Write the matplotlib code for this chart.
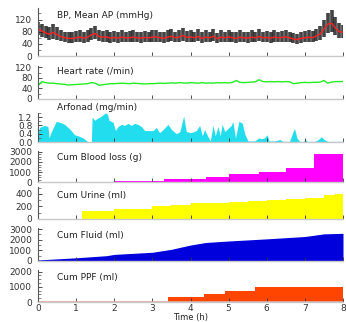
import numpy as np
import matplotlib
matplotlib.use('Agg')
import matplotlib.pyplot as plt
from matplotlib.ticker import MultipleLocator

plt.rcParams['font.family'] = ['DejaVu Sans']

# sampling grid for BP and heart rate (every 6 min)
t_grid = np.round(np.arange(81) * 0.1, 1)

bp_mean = [90, 82, 76, 72, 78, 70, 64, 60, 58, 58,
           60, 62, 59, 62, 70, 74, 64, 62, 63, 59,
           61, 59, 62, 60, 60, 62, 60, 59, 61, 60,
           62, 63, 60, 58, 62, 65, 60, 62, 68, 61,
           63, 60, 64, 58, 62, 60, 65, 57, 62, 60,
           63, 60, 58, 62, 60, 59, 62, 60, 64, 60,
           61, 59, 62, 60, 61, 63, 60, 56, 54, 58,
           60, 62, 60, 66, 72, 88, 105, 108, 92, 80, 78]
bp_sys = [112, 106, 100, 96, 104, 95, 86, 80, 78, 80,
          82, 85, 80, 84, 92, 98, 86, 82, 84, 80,
          82, 79, 84, 80, 81, 84, 80, 79, 82, 80,
          84, 86, 80, 78, 84, 88, 80, 84, 92, 82,
          86, 80, 88, 78, 84, 80, 88, 76, 84, 80,
          86, 80, 78, 84, 80, 79, 84, 80, 88, 80,
          82, 79, 84, 80, 82, 86, 80, 76, 74, 78,
          82, 86, 82, 90, 100, 120, 140, 150, 128, 108, 102]
bp_dia = [70, 62, 58, 54, 56, 52, 48, 45, 44, 44,
          45, 46, 44, 46, 52, 55, 48, 46, 47, 44,
          46, 44, 46, 45, 45, 46, 45, 44, 46, 45,
          46, 47, 45, 43, 46, 48, 45, 46, 50, 46,
          47, 45, 48, 43, 46, 45, 48, 42, 46, 45,
          47, 45, 43, 46, 45, 44, 46, 45, 48, 45,
          46, 44, 46, 45, 46, 47, 45, 42, 40, 43,
          45, 46, 45, 50, 54, 62, 75, 80, 70, 60, 58]
hr = [50, 66, 62, 60, 60, 58, 57, 55, 53, 54,
      55, 56, 57, 58, 62, 60, 52, 54, 56, 58,
      58, 59, 60, 59, 58, 60, 59, 58, 57, 58,
      58, 59, 60, 59, 60, 61, 60, 62, 61, 60,
      62, 61, 60, 62, 60, 61, 60, 62, 61, 62,
      61, 63, 70, 63, 62, 63, 64, 65, 73, 66,
      65, 66, 65, 66, 65, 66, 65, 58, 60, 62,
      63, 62, 63, 63, 64, 70, 60, 64, 66, 66, 66]

arf_t = [0.00, 0.04, 0.09, 0.17, 0.26, 0.29, 0.35, 0.48, 0.57, 0.70, 0.79, 0.87,
         0.96, 1.05, 1.18, 1.28, 1.35, 1.40, 1.42, 1.49, 1.56, 1.62, 1.70, 1.77,
         1.82, 1.86, 1.97, 2.03, 2.10, 2.19, 2.27, 2.36, 2.45, 2.53, 2.62, 2.71,
         2.80, 2.88, 3.02, 3.10, 3.19, 3.28, 3.41, 3.50, 3.63, 3.72, 3.82, 3.89,
         4.02, 4.15, 4.24, 4.31, 4.37, 4.46, 4.52, 4.59, 4.65, 4.72, 4.78, 4.83,
         4.90, 4.98, 5.07, 5.11, 5.18, 5.27, 5.36, 5.42, 5.51, 5.68, 5.80, 5.86,
         5.94, 6.01, 6.06, 6.21, 6.34, 6.42, 6.60, 6.69, 6.73, 6.79, 6.86, 6.97,
         7.01, 7.05, 7.26, 7.34, 7.43, 7.52, 7.60, 8.00]
arf_v = [0.45, 0.7, 0.75, 0.8, 0.75, 0.2, 0.5, 1.0, 0.95, 0.85, 0.7, 0.55,
         0.35, 0.3, 0.2, 0.05, 0.0, 0.0, 1.2, 1.05, 1.15, 1.2, 1.3, 1.4,
         1.35, 1.05, 0.95, 0.55, 0.75, 0.85, 0.8, 0.9, 0.8, 0.9, 0.85, 0.75,
         0.55, 0.55, 0.55, 0.7, 0.45, 0.6, 0.85, 0.6, 0.4, 0.5, 1.25, 0.5,
         0.45, 0.55, 0.8, 0.3, 0.6, 0.25, 0.05, 0.8, 0.3, 0.75, 0.3, 0.85,
         0.5, 0.65, 0.8, 1.0, 0.2, 1.0, 0.9, 0.4, 0.05, 0.05, 0.2, 0.15,
         0.2, 0.35, 0.05, 0.05, 0.12, 0.03, 0.03, 0.5, 0.65, 0.2, 0.03, 0.03,
         0.15, 0.03, 0.03, 0.1, 0.25, 0.1, 0.03, 0.03]

blood_t = [0.0, 1.0, 2.0, 3.0, 3.3, 4.4, 5.0, 5.8, 6.5, 7.25, 8.0]
blood_v = [10, 30, 80, 150, 350, 550, 800, 1050, 1400, 2800, 2800]

urine_t = [0.0, 1.16, 2.0, 3.0, 3.5, 4.0, 4.5, 5.0, 5.5, 6.0, 6.5, 7.0, 7.5, 7.8, 8.0]
urine_v = [0, 130, 160, 210, 230, 250, 260, 270, 285, 295, 320, 330, 380, 400, 400]

fluid_t = [0.0, 1.0, 1.8, 2.0, 3.0, 3.5, 4.0, 4.4, 5.0, 6.0, 7.0, 7.5, 8.0]
fluid_v = [100, 300, 500, 620, 820, 1100, 1500, 1740, 1880, 2080, 2300, 2550, 2600]

ppf_t = [0.0, 3.4, 4.35, 4.9, 5.7, 8.0]
ppf_v = [0, 300, 550, 750, 1000, 1000]

W, H = 346, 322
fig = plt.figure(figsize=(W / 100, H / 100), dpi=100)

# (top px, bottom px, ymax, major, minor, label, label y)
panels = [
    (8, 56, 158, 40, 20, 'BP, Mean AP (mmHg)', 0.85),
    (66, 99, 125, 40, 20, 'Heart rate (/min)', 0.82),
    (113, 142, 1.4, 0.4, 0.2, 'Arfonad (mg/min)', 1.2),
    (151, 182, 3100, 1000, 250, 'Cum Blood loss (g)', 0.8),
    (187, 219, 510, 200, 100, 'Cum Urine (ml)', 0.72),
    (228, 261, 3100, 1000, 500, 'Cum Fluid (ml)', 0.76),
    (270, 302, 2100, 1000, 250, 'Cum PPF (ml)', 0.76),
]

axes = []
for top, bot, ymax, maj, mnr, label, ly in panels:
    ax = fig.add_axes([38 / W, 1 - bot / H, 305 / W, (bot - top) / H])
    ax.set_xlim(0, 8)
    ax.set_ylim(0, ymax)
    ax.yaxis.set_major_locator(MultipleLocator(maj))
    ax.yaxis.set_minor_locator(MultipleLocator(mnr))
    ax.xaxis.set_major_locator(MultipleLocator(1))
    ax.spines['top'].set_visible(False)
    ax.spines['right'].set_visible(False)
    ax.spines['left'].set_color('#555555')
    ax.spines['left'].set_linewidth(0.8)
    ax.spines['bottom'].set_color('#c8c8c8')
    ax.spines['bottom'].set_linewidth(1.0)
    ax.tick_params(direction='in', length=3, width=0.6, labelsize=6.5,
                   pad=4, colors='#333333')
    ax.tick_params(axis='y', which='minor', direction='in', length=2, width=0.5,
                   colors='#555555')
    ax.tick_params(axis='x', labelbottom=False)
    ax.text(0.062, ly, label, transform=ax.transAxes, fontsize=6.5,
            ha='left', va='center', color='#222222')
    ax.set_facecolor('none')
    axes.append(ax)

ax_bp, ax_hr, ax_arf, ax_bl, ax_ur, ax_fl, ax_ppf = axes

ax_bp.vlines(t_grid, bp_dia, bp_sys, color='#151515', lw=2.6, alpha=0.8)
ax_bp.plot(t_grid, bp_mean, color='#ff2020', lw=1.0)

ax_hr.plot(t_grid, hr, color='#22ee22', lw=1.0)

ax_arf.fill_between(arf_t, 0, arf_v, color='#22dded', lw=0)

ax_bl.fill_between(blood_t, 0, blood_v, step='post', color='#ff00ff', lw=0)
ax_ur.fill_between(urine_t, 0, urine_v, step='post', color='#ffff00', lw=0)
ax_fl.fill_between(fluid_t, 0, fluid_v, color='#0000dd', lw=0)
ax_ppf.fill_between(ppf_t, 0, ppf_v, step='post', color='#ff4500', lw=0)
ax_ppf.plot([0, 8], [0, 0], color='#e0a898', lw=1.2)

ax_ppf.tick_params(axis='x', labelbottom=True, pad=1.5)
fig.text((38 + 305 / 2) / W, 0, 'Time (h)', fontsize=6,
         ha='center', va='bottom', color='#222222')

fig.savefig('out.png', dpi=100)
